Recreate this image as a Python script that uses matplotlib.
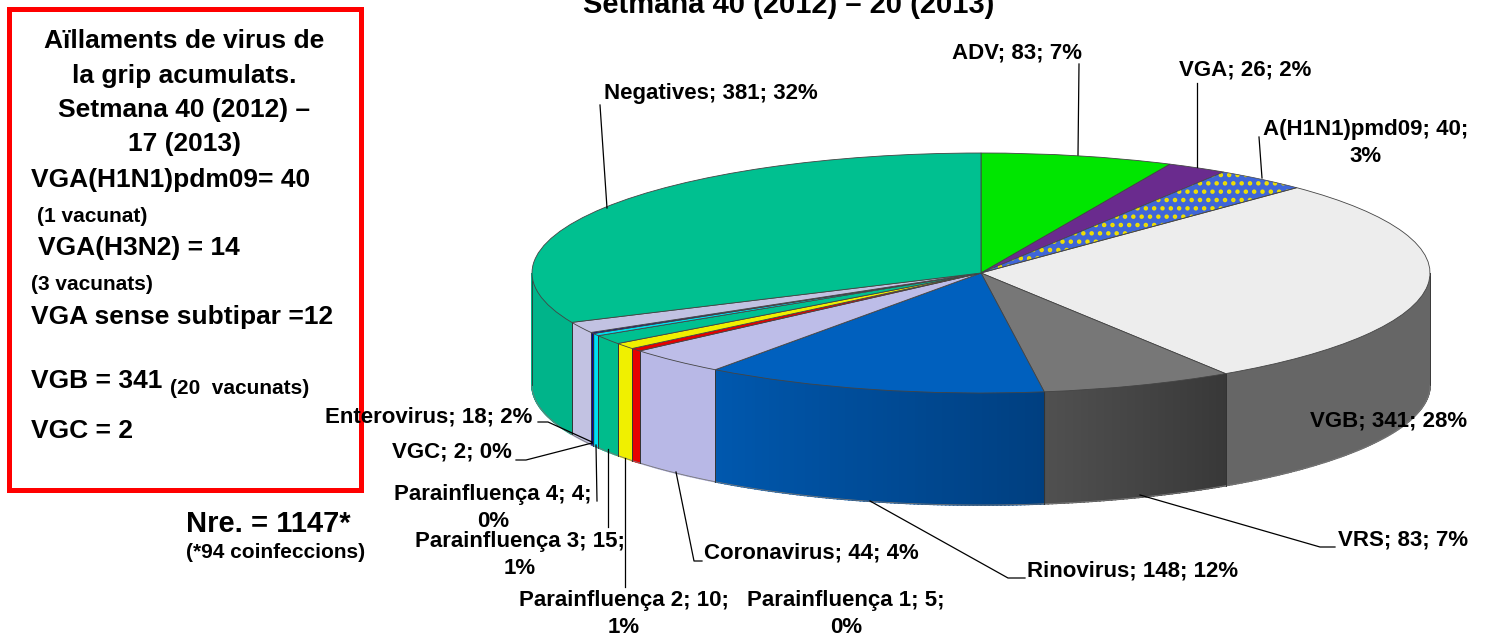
import matplotlib
matplotlib.use("Agg")
import matplotlib.pyplot as plt
import matplotlib.colors as mcolors
from matplotlib.patches import Wedge
import numpy as np

plt.rcParams['font.family'] = ['Liberation Sans', 'DejaVu Sans']
plt.rcParams['font.weight'] = 'bold'
plt.rcParams['hatch.linewidth'] = 2.0

W, H = 1486, 639

# data, clockwise from 12 o'clock
names = ["ADV", "VGA", "A(H1N1)pmd09", "VGB", "VRS", "Rinovirus", "Coronavirus",
         "Parainfluença 1", "Parainfluença 2", "Parainfluença 3", "Parainfluença 4",
         "VGC", "Enterovirus", "Negatives"]
counts = [83, 26, 40, 341, 83, 148, 44, 5, 10, 15, 4, 2, 18, 381]
pcts = [7, 2, 3, 28, 7, 12, 4, 0, 1, 1, 0, 0, 2, 32]

top_colors = ["#00E600", "#6A2B8E", "#3F66D8", "#EDEDED", "#777777", "#0060BE", "#BDBDE8",
              "#E60000", "#F0F000", "#00C090", "#00E0F0", "#0000A0", "#C2C2E2", "#00C090"]
side_colors = [("#00E600", "#00E600"), ("#6A2B8E", "#6A2B8E"), ("#3F66D8", "#3F66D8"),
               ("#666666", "#666666"), ("#383838", "#505050"), ("#003F80", "#0058AE"),
               ("#B8B8E6", "#B8B8E6"), ("#E60000", "#E60000"), ("#F0F000", "#F0F000"),
               ("#00BC8C", "#00BC8C"), ("#00E0F0", "#00E0F0"), ("#0000A0", "#0000A0"),
               ("#C2C2E2", "#C2C2E2"), ("#00B48A", "#00B48A")]

fig = plt.figure(figsize=(W / 100, H / 100), dpi=100)

# pie axes: box of the top ellipse, squashed
cx, cy, rx, ry, depth = 981, 273, 449, 120, 112
pie_ax = fig.add_axes([(cx - rx) / W, 1 - (cy + ry) / H, 2 * rx / W, 2 * ry / H])

edges = np.cumsum([0] + counts) / sum(counts) * 2 * np.pi
d = depth / ry
for i in range(len(counts)):
    a0, a1 = max(edges[i], np.pi / 2), min(edges[i + 1], 3 * np.pi / 2)
    if a1 <= a0:
        continue
    n = max(int(np.degrees(a1 - a0)) * 2, 1)
    ts = np.linspace(a0, a1, n + 1)
    c0 = np.array(mcolors.to_rgb(side_colors[i][0]))
    c1 = np.array(mcolors.to_rgb(side_colors[i][1]))
    for k in range(n):
        c = c0 + (c1 - c0) * (k + 0.5) / n
        xs = np.sin([ts[k], ts[k + 1], ts[k + 1], ts[k]])
        ys = np.cos([ts[k], ts[k + 1], ts[k + 1], ts[k]]) - np.array([0, 0, d, d])
        pie_ax.fill(xs, ys, color=c, lw=1.2, clip_on=False, zorder=1)
    # outlines of the side
    pie_ax.plot(np.sin(ts), np.cos(ts) - d, color="#777777", lw=0.6, clip_on=False, zorder=2)
    for t in (a0, a1):
        pie_ax.plot([np.sin(t)] * 2, [np.cos(t), np.cos(t) - d], color="#333333", lw=0.6,
                    clip_on=False, zorder=2)

wedges, _ = pie_ax.pie(counts, colors=top_colors, startangle=90, counterclock=False, radius=1,
                       wedgeprops=dict(edgecolor="#444444", linewidth=0.6, zorder=3))
wedges[2].set_hatch("..")
wedges[2].set_edgecolor("#F0E000")
wedges[2].set_linewidth(0)
pie_ax.add_patch(Wedge((0, 0), 1, wedges[2].theta1, wedges[2].theta2, fill=False,
                       edgecolor="#444444", linewidth=0.5, zorder=4))
pie_ax.set_aspect("auto")
pie_ax.set_xlim(-1, 1)
pie_ax.set_ylim(-1, 1)

# overlay in pixels for texts and leaders
ax = fig.add_axes([0, 0, 1, 1], facecolor="none")
ax.set_xlim(0, W)
ax.set_ylim(H, 0)
ax.axis("off")

ax.add_patch(plt.Rectangle((8.5, 8.5), 352, 481, fill=False, edgecolor="#FF0000", linewidth=3.6))


def label(i):
    return "%s; %d; %d%%" % (names[i], counts[i], pcts[i])


def label2(i):
    return "%s; %d;\n%d%%" % (names[i], counts[i], pcts[i])


FS = 16
LS = 1.32
ax.text(789, 5, "Setmana 40 (2012) – 20 (2013)", ha="center", va="center", fontsize=21)

ax.text(952, 53, label(0), ha="left", va="center", fontsize=FS)
ax.text(1179, 70, label(1), ha="left", va="center", fontsize=FS)
ax.text(1366, 143, label2(2), ha="center", va="center", fontsize=FS, linespacing=LS, multialignment="center")
ax.text(1310, 421, label(3), ha="left", va="center", fontsize=FS)
ax.text(1338, 540, label(4), ha="left", va="center", fontsize=FS)
ax.text(1027, 571, label(5), ha="left", va="center", fontsize=FS)
ax.text(704, 553, label(6), ha="left", va="center", fontsize=FS)
ax.text(846, 614, label2(7), ha="center", va="center", fontsize=FS, linespacing=LS, multialignment="center")
ax.text(624, 614, label2(8), ha="center", va="center", fontsize=FS, linespacing=LS, multialignment="center")
ax.text(520, 555, label2(9), ha="center", va="center", fontsize=FS, linespacing=LS, multialignment="center")
ax.text(493, 508, label2(10), ha="center", va="center", fontsize=FS, linespacing=LS, multialignment="center")
ax.text(392, 452, label(11), ha="left", va="center", fontsize=FS)
ax.text(325, 417, label(12), ha="left", va="center", fontsize=FS)
ax.text(604, 93, label(13), ha="left", va="center", fontsize=FS)

leaders = [([600, 607], [105, 208]), ([1079, 1078], [64, 155]), ([1197, 1197], [83, 167]),
           ([1259, 1262], [137, 178]), ([1335, 1320, 1140], [547, 547, 495]),
           ([1025, 1008, 870], [578, 578, 501]), ([702, 694, 676], [561, 561, 472]),
           ([625, 625], [587, 458]), ([608, 608], [527, 449]), ([597, 596], [501, 445]),
           ([516, 526, 592], [460, 460, 443]), ([538, 548, 592], [422, 422, 442])]
for xs, ys in leaders:
    ax.plot(xs, ys, color="black", lw=0.9)

# box text
for y, s in zip([41, 76, 110, 144], ["Aïllaments de virus de", "la grip acumulats.",
                                     "Setmana 40 (2012) –", "17 (2013)"]):
    ax.text(184, y, s, ha="center", va="center", fontsize=19)
ax.text(31, 180, "VGA(H1N1)pdm09= 40", va="center", fontsize=19)
ax.text(37, 216, "(1 vacunat)", va="center", fontsize=15)
ax.text(38, 248, "VGA(H3N2) = 14", va="center", fontsize=19)
ax.text(31, 285, "(3 vacunats)", va="center", fontsize=15)
ax.text(31, 317, "VGA sense subtipar =12", va="center", fontsize=19)
ax.text(31, 381, "VGB = 341", va="center", fontsize=19)
ax.text(170, 388, "(20  vacunats)", va="center", fontsize=15)
ax.text(31, 431, "VGC = 2", va="center", fontsize=19)

ax.text(186, 524, "Nre. = 1147*", va="center", fontsize=21)
ax.text(186, 553, "(*94 coinfeccions)", va="center", fontsize=15)

fig.savefig("out.png", dpi=100)
